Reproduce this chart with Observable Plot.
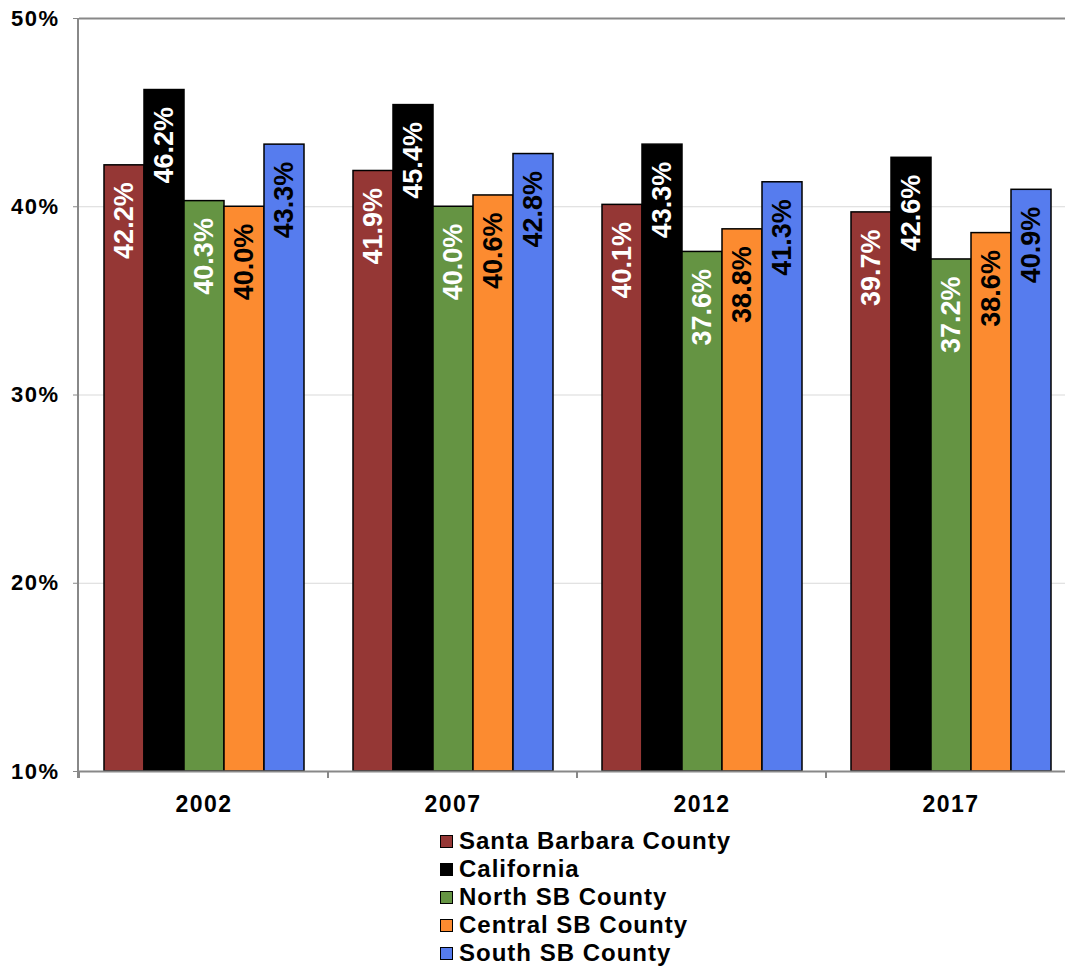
<!DOCTYPE html>
<html><head><meta charset="utf-8">
<script src="https://cdn.jsdelivr.net/npm/d3@7"></script>
<script src="https://cdn.jsdelivr.net/npm/@observablehq/plot@0.6"></script>
<style>
body{margin:0;background:#fff;font-family:"Liberation Sans",Arial,sans-serif;}
#wrap{width:1065px;height:968px;overflow:hidden;position:relative;}
#chart svg{display:block;max-width:none !important;}
g[aria-label="y-axis tick label"] text{letter-spacing:1.5px;}
g[aria-label="fx-axis tick label"] text{letter-spacing:1.5px;}
#legend{margin-left:440px;margin-top:2px;font-weight:bold;font-size:24px;letter-spacing:1px;line-height:28px;color:#000;}
#legend .row{display:flex;align-items:center;height:28px;}
#legend .sw{display:inline-block;width:11px;height:11px;border:1.5px solid #000;margin-right:6px;}
</style></head><body>
<div id="wrap"><div id="chart"></div><div id="legend"></div></div>
<script>
const years = ["2002", "2007", "2012", "2017"];
const series = ["Santa Barbara County", "California", "North SB County", "Central SB County", "South SB County"];
const colors = ["#953735", "#000000", "#659443", "#fc8b30", "#567cee"];
const santaBarbara = [42.2, 41.9, 40.1, 39.7];
const california = [46.2, 45.4, 43.3, 42.6];
const northSB = [40.3, 40.0, 37.6, 37.2];
const centralSB = [40.0, 40.6, 38.8, 38.6];
const southSB = [43.3, 42.8, 41.3, 40.9];
const yDomain = [10, 50];
const yTicks = [10, 20, 30, 40, 50];
const gridVals = [20, 30, 40];
const lightLabelSeries = ["Santa Barbara County", "California", "North SB County"];

const values = [santaBarbara, california, northSB, centralSB, southSB];
const data = years.flatMap((yr, i) => series.map((s, j) => ({year: yr, series: s, value: values[j][i]})));
const fmt = d => d.value.toFixed(1) + "%";

const plot = Plot.plot({
  width: 1076, height: 825,
  marginLeft: 78, marginRight: 0, marginTop: 18, marginBottom: 54,
  style: {fontFamily: "Liberation Sans, Arial, sans-serif", background: "white", color: "black", maxWidth: "none"},
  fx: {domain: years, padding: 0, label: null},
  x: {domain: series, paddingInner: 0, paddingOuter: 0.55, axis: null},
  y: {domain: yDomain, label: null},
  color: {domain: series, range: colors},
  marks: [
    Plot.ruleY(gridVals, {stroke: "#d9d9d9", strokeWidth: 1}),
    Plot.ruleY([yDomain[1]], {stroke: "#888", strokeWidth: 2}),
    Plot.barY(data, {fx: "year", x: "series", y1: yDomain[0], y2: "value", fill: "series", stroke: "black", strokeWidth: 1.5}),
    Plot.text(data.filter(d => lightLabelSeries.includes(d.series)), {fx: "year", x: "series", y: "value", text: fmt, rotate: -90, textAnchor: "end", lineAnchor: "middle", dy: 17, fill: "white", fontSize: 27, fontWeight: "bold"}),
    Plot.text(data.filter(d => !lightLabelSeries.includes(d.series)), {fx: "year", x: "series", y: "value", text: fmt, rotate: -90, textAnchor: "end", lineAnchor: "middle", dy: 17, fill: "black", fontSize: 27, fontWeight: "bold"}),
    Plot.ruleY([yDomain[0]], {stroke: "#888", strokeWidth: 2}),
    Plot.axisY({ticks: yTicks, tickFormat: d => d + "%", tickSize: 6, tickPadding: 14, stroke: "#888", fill: "black", fontSize: 22, fontWeight: "bold", label: null}),
    Plot.axisFx({anchor: "bottom", tickSize: 0, tickPadding: 24, fontSize: 23, fontWeight: "bold", label: null})
  ]
});
document.getElementById("chart").appendChild(plot);

// axis line and group-boundary ticks drawn from the plot's own scales
const fxs = plot.scale("fx"), ys = plot.scale("y");
const svg = d3.select(plot);
const g = svg.append("g").attr("stroke", "#888").attr("stroke-width", 2);
const x0 = fxs.range[0];
const yb = ys.apply(yDomain[0]), yt = ys.apply(yDomain[1]);
g.append("line").attr("x1", x0).attr("x2", x0).attr("y1", yt).attr("y2", yb + 7);
years.forEach(yr => {
  const xx = fxs.apply(yr);
  g.append("line").attr("x1", xx).attr("x2", xx).attr("y1", yb).attr("y2", yb + 7);
});
g.append("line").attr("x1", fxs.range[1]).attr("x2", fxs.range[1]).attr("y1", yb).attr("y2", yb + 7);

// legend
const legend = d3.select("#legend");
series.forEach((s, i) => {
  const row = legend.append("div").attr("class", "row");
  row.append("span").attr("class", "sw").style("background", colors[i]);
  row.append("span").text(s);
});
</script>
</body></html>
